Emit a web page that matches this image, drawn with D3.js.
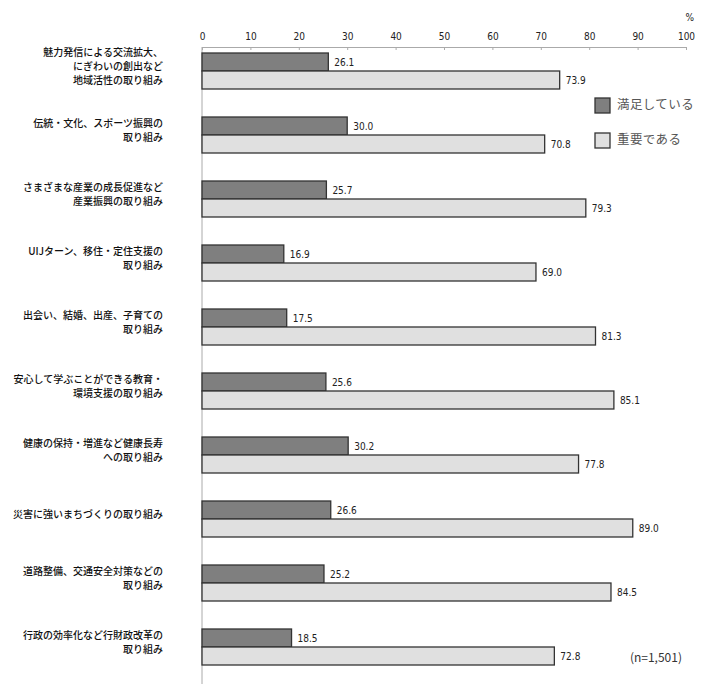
<!DOCTYPE html>
<html>
<head>
<meta charset="utf-8">
<script src="https://cdn.jsdelivr.net/npm/d3@7"></script>
<style>
  body { margin: 0; background: #fff; }
  text { font-family: "Noto Sans CJK JP", sans-serif; }
  .num { font-family: "Liberation Sans Narrow", "DejaVu Sans Condensed", "Liberation Sans", sans-serif; }
</style>
</head>
<body>
<script>
const categories = [
  ["魅力発信による交流拡大、", "にぎわいの創出など", "地域活性の取り組み"],
  ["伝統・文化、スポーツ振興の", "取り組み"],
  ["さまざまな産業の成長促進など", "産業振興の取り組み"],
  ["UIJターン、移住・定住支援の", "取り組み"],
  ["出会い、結婚、出産、子育ての", "取り組み"],
  ["安心して学ぶことができる教育・", "環境支援の取り組み"],
  ["健康の保持・増進など健康長寿", "への取り組み"],
  ["災害に強いまちづくりの取り組み"],
  ["道路整備、交通安全対策などの", "取り組み"],
  ["行政の効率化など行財政改革の", "取り組み"]
];
const series = ["満足している", "重要である"];
const satisfied = [26.1, 30.0, 25.7, 16.9, 17.5, 25.6, 30.2, 26.6, 25.2, 18.5];
const important = [73.9, 70.8, 79.3, 69.0, 81.3, 85.1, 77.8, 89.0, 84.5, 72.8];
const ticks = [0, 10, 20, 30, 40, 50, 60, 70, 80, 90, 100];
const note = "(n=1,501)";

const W = 710, H = 684;
const colors = ["#7f7f7f", "#e0e0e0"];

const svg = d3.select("body").append("svg")
  .attr("width", W).attr("height", H);

const x = d3.scaleLinear().domain([0, 100]).range([202, 686]);
const keys = categories.map((c, i) => i);
const y = d3.scaleBand().domain(keys).range([53, 53 + 640]);
const ySub = d3.scaleBand().domain(series).range([0, 36]);

// top axis
const axis = svg.append("g")
  .attr("transform", "translate(0,47)")
  .call(d3.axisTop(x).tickValues(ticks).tickSize(-3).tickPadding(7));
axis.select(".domain").attr("stroke", "#aaa");
axis.selectAll(".tick line").attr("stroke", "#aaa");
axis.selectAll(".tick text").attr("class", "num")
  .attr("font-size", 10).attr("fill", "#222");

svg.append("text").attr("class", "num")
  .attr("x", 694).attr("y", 21).attr("text-anchor", "end")
  .attr("font-size", 10).attr("fill", "#222").text("%");

// left vertical line
svg.append("line")
  .attr("x1", x(0)).attr("x2", x(0))
  .attr("y1", 47).attr("y2", H)
  .attr("stroke", "#aaa");

const data = keys.map(i => ({ i, vals: [satisfied[i], important[i]] }));

const g = svg.selectAll(".grp").data(data).enter().append("g")
  .attr("transform", d => `translate(0,${y(d.i)})`);

g.selectAll("rect").data(d => d.vals.map((v, k) => ({ v, k })))
  .enter().append("rect")
  .attr("x", x(0))
  .attr("y", d => ySub(series[d.k]))
  .attr("width", d => x(d.v) - x(0))
  .attr("height", ySub.bandwidth())
  .attr("fill", d => colors[d.k])
  .attr("stroke", "#333")
  .attr("stroke-width", 1.3);

g.selectAll(".val").data(d => d.vals.map((v, k) => ({ v, k })))
  .enter().append("text").attr("class", "num")
  .attr("x", d => x(d.v) + 6)
  .attr("y", d => ySub(series[d.k]) + ySub.bandwidth() / 2 + 1)
  .attr("dominant-baseline", "middle")
  .attr("font-size", 10).attr("fill", "#222")
  .text(d => d.v.toFixed(1));

// category labels
g.each(function(d) {
  const lines = categories[d.i];
  const cy = 14.5 - (lines.length - 1) * 14 / 2;
  d3.select(this).append("text")
    .attr("text-anchor", "end")
    .attr("font-size", 10).attr("font-weight", 500).attr("fill", "#111")
    .selectAll("tspan").data(lines).enter().append("tspan")
    .attr("x", 163)
    .attr("y", (l, j) => cy + j * 14)
    .attr("dominant-baseline", "middle")
    .text(l => l);
});

// legend
const leg = svg.selectAll(".leg").data(series).enter().append("g")
  .attr("transform", (s, k) => `translate(595,${98 + k * 35})`);
leg.append("rect").attr("width", 15).attr("height", 15)
  .attr("fill", (s, k) => colors[k]).attr("stroke", "#333").attr("stroke-width", 1.3);
leg.append("text").attr("x", 22).attr("y", 8)
  .attr("dominant-baseline", "middle")
  .attr("font-size", 12.5).attr("letter-spacing", 0.4).attr("fill", "#555")
  .text(s => s);

svg.append("text")
  .attr("x", 682).attr("y", 659).attr("text-anchor", "end")
  .attr("dominant-baseline", "middle")
  .attr("font-size", 12).attr("fill", "#333").text(note);
</script>
</body>
</html>
